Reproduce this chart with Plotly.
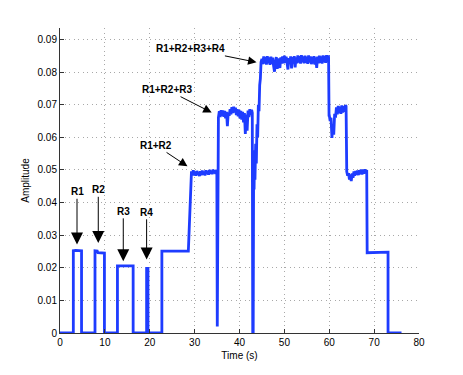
import numpy as np
import plotly.graph_objects as go

# ---- data (time in s, amplitude) ----
pulses_t = [0.0, 2.97, 2.97, 3.5, 4.8, 4.8, 7.8, 7.8, 8.3, 8.45, 9.9, 9.9,
            12.8, 12.8, 16.3, 16.3, 19.3, 19.3, 19.6, 19.6, 22.7, 22.7, 28.6]
pulses_a = [0.0, 0.0, 0.0252, 0.0253, 0.0252, 0.0, 0.0, 0.0252, 0.0251, 0.0246, 0.0245, 0.0,
            0.0, 0.0206, 0.0206, 0.0, 0.0, 0.0198, 0.0198, 0.0, 0.0, 0.0251, 0.0251]

p49_start, p49_step = 29.3, 0.2
p49_vals = [0.0496, 0.0484, 0.0499, 0.0483, 0.0495, 0.0482, 0.0497, 0.0485, 0.0494, 0.0481,
            0.0496, 0.0484, 0.0498, 0.0486, 0.0495, 0.0483, 0.0499, 0.0487, 0.0497, 0.0485,
            0.0500, 0.0488, 0.0498, 0.0487, 0.0501, 0.0489, 0.0499, 0.0488, 0.0500]

spike1_t = [34.95, 35.05, 35.2]
spike1_a = [0.0495, 0.0020, 0.0660]

p67_start, p67_step = 35.3, 0.2
p67_vals = [0.0660, 0.0680, 0.0662, 0.0683, 0.0666, 0.0682, 0.0663, 0.0681, 0.0658, 0.0678,
            0.0634, 0.0676, 0.0666, 0.0686, 0.0670, 0.0692, 0.0674, 0.0694, 0.0676, 0.0691,
            0.0668, 0.0686, 0.0664, 0.0684, 0.0658, 0.0681, 0.0654, 0.0678, 0.0646, 0.0674,
            0.0610, 0.0670, 0.0620, 0.0682, 0.0662, 0.0686, 0.0668, 0.0684]

rise_t = [42.85, 42.95, 43.05, 43.15, 43.25, 43.35, 43.45, 43.6, 43.75, 43.9, 44.05,
          44.2, 44.35, 44.5, 44.65, 44.8, 44.95]
rise_a = [0.0675, 0.0, 0.0, 0.0520, 0.0440, 0.0560, 0.0470, 0.0580, 0.0520, 0.0640, 0.0600,
          0.0700, 0.0680, 0.0760, 0.0780, 0.0830, 0.0838]

p84_start, p84_step = 45.0, 0.2
p84_vals = [0.0840, 0.0824, 0.0848, 0.0826, 0.0846, 0.0823, 0.0849, 0.0827, 0.0845, 0.0822,
            0.0847, 0.0825, 0.0844, 0.0818, 0.0801, 0.0828, 0.0846, 0.0810, 0.0842, 0.0824,
            0.0813, 0.0845, 0.0826, 0.0848, 0.0827, 0.0850, 0.0828, 0.0847, 0.0820, 0.0808,
            0.0843, 0.0825, 0.0848, 0.0811, 0.0846, 0.0826, 0.0849, 0.0814, 0.0845, 0.0827,
            0.0851, 0.0829, 0.0849, 0.0826, 0.0852, 0.0830, 0.0848, 0.0827, 0.0850, 0.0828,
            0.0847, 0.0825, 0.0851, 0.0829, 0.0848, 0.0824, 0.0846, 0.0826, 0.0849, 0.0823,
            0.0845, 0.0813, 0.0847, 0.0827, 0.0850, 0.0828, 0.0848, 0.0826, 0.0851, 0.0830,
            0.0849, 0.0828, 0.0852, 0.0831, 0.0851]

drop1_t = [59.85, 59.95]
drop1_a = [0.0845, 0.0668]

p68_start, p68_step = 60.0, 0.2
p68_vals = [0.0668, 0.0650, 0.0660, 0.0598, 0.0640, 0.0608, 0.0672, 0.0660, 0.0692, 0.0670,
            0.0696, 0.0674, 0.0694, 0.0672, 0.0698, 0.0676, 0.0695, 0.0678, 0.0698]

drop2_t = [63.75, 63.85]
drop2_a = [0.0695, 0.0502]

p49b_start, p49b_step = 63.9, 0.2
p49b_vals = [0.0495, 0.0482, 0.0490, 0.0470, 0.0486, 0.0466, 0.0489, 0.0476, 0.0495, 0.0482,
             0.0497, 0.0485, 0.0498, 0.0484, 0.0499, 0.0487, 0.0501, 0.0486, 0.0500, 0.0488,
             0.0502, 0.0490, 0.0500]

tail_t = [68.35, 68.45, 73.1, 73.1, 76.1]
tail_a = [0.0500, 0.0246, 0.0248, 0.0, 0.0]

# annotations: label, tip (t, a), text centre (t, a)
ann_labels = ["R1", "R2", "R3", "R4", "R1+R2", "R1+R2+R3", "R1+R2+R3+R4"]
ann_tip_t = [3.79, 8.53, 14.1, 19.3, 28.4, 33.8, 43.8]
ann_tip_a = [0.0271, 0.0276, 0.0220, 0.0225, 0.0511, 0.0676, 0.0830]
ann_txt_t = [3.79, 8.53, 14.1, 19.3, 21.4, 23.8, 29.0]
ann_txt_a = [0.0433, 0.0439, 0.0373, 0.0370, 0.0575, 0.0746, 0.0871]

x_ticks = [0, 10, 20, 30, 40, 50, 60, 70, 80]
y_ticks = [0, 0.01, 0.02, 0.03, 0.04, 0.05, 0.06, 0.07, 0.08, 0.09]
y_tick_text = ["0", "0.01", "0.02", "0.03", "0.04", "0.05", "0.06", "0.07", "0.08", "0.09"]


def grid(start, step, vals):
    return [round(start + step * i, 4) for i in range(len(vals))]


T = (pulses_t + grid(p49_start, p49_step, p49_vals) + spike1_t
     + grid(p67_start, p67_step, p67_vals) + rise_t
     + grid(p84_start, p84_step, p84_vals) + drop1_t
     + grid(p68_start, p68_step, p68_vals) + drop2_t
     + grid(p49b_start, p49b_step, p49b_vals) + tail_t)
A = (pulses_a + p49_vals + spike1_a + p67_vals + rise_a + p84_vals + drop1_a
     + p68_vals + drop2_a + p49b_vals + tail_a)

FONT = "Liberation Sans, Arial, Helvetica, sans-serif"

fig = go.Figure()
fig.add_trace(go.Scatter(x=T, y=A, mode="lines",
                         line=dict(color="#1e3cff", width=2.8),
                         hoverinfo="skip", showlegend=False))

for lab, tx, ta, px, pa in zip(ann_labels, ann_tip_t, ann_tip_a, ann_txt_t, ann_txt_a):
    big = lab in ("R1", "R2", "R3", "R4")
    fig.add_annotation(x=tx, y=ta, ax=px, ay=pa, axref="x", ayref="y", xref="x", yref="y",
                       text="<b>%s</b>" % lab, showarrow=True,
                       arrowhead=2, arrowsize=2.4 if big else 1.7, arrowwidth=1,
                       arrowcolor="black", standoff=0, startstandoff=0,
                       font=dict(family=FONT, size=10, color="black"))

axis_common = dict(showline=True, linecolor="#333333", linewidth=1, mirror=False,
                   ticks="inside", ticklen=4, tickcolor="#333333",
                   showgrid=True, gridcolor="#a8a8a8", griddash="1px,3.5px", gridwidth=1,
                   zeroline=False, tickfont=dict(family=FONT, size=10, color="black"))

fig.update_xaxes(range=[0, 80], tickvals=x_ticks, ticktext=[str(v) for v in x_ticks],
                 title=dict(text="Time (s)", font=dict(family=FONT, size=10, color="black"),
                            standoff=4),
                 **axis_common)
fig.update_yaxes(range=[0, 0.0935], tickvals=y_ticks, ticktext=y_tick_text,
                 title=dict(text="Amplitude", font=dict(family=FONT, size=10, color="black"),
                            standoff=6),
                 **axis_common)

# the page adds an 8px body margin, so shift the figure's own margins to compensate
fig.update_layout(width=463, height=375,
                  margin=dict(l=52, r=52, t=20, b=50, autoexpand=False),
                  paper_bgcolor="white", plot_bgcolor="white")

fig.write_html("out.html")
